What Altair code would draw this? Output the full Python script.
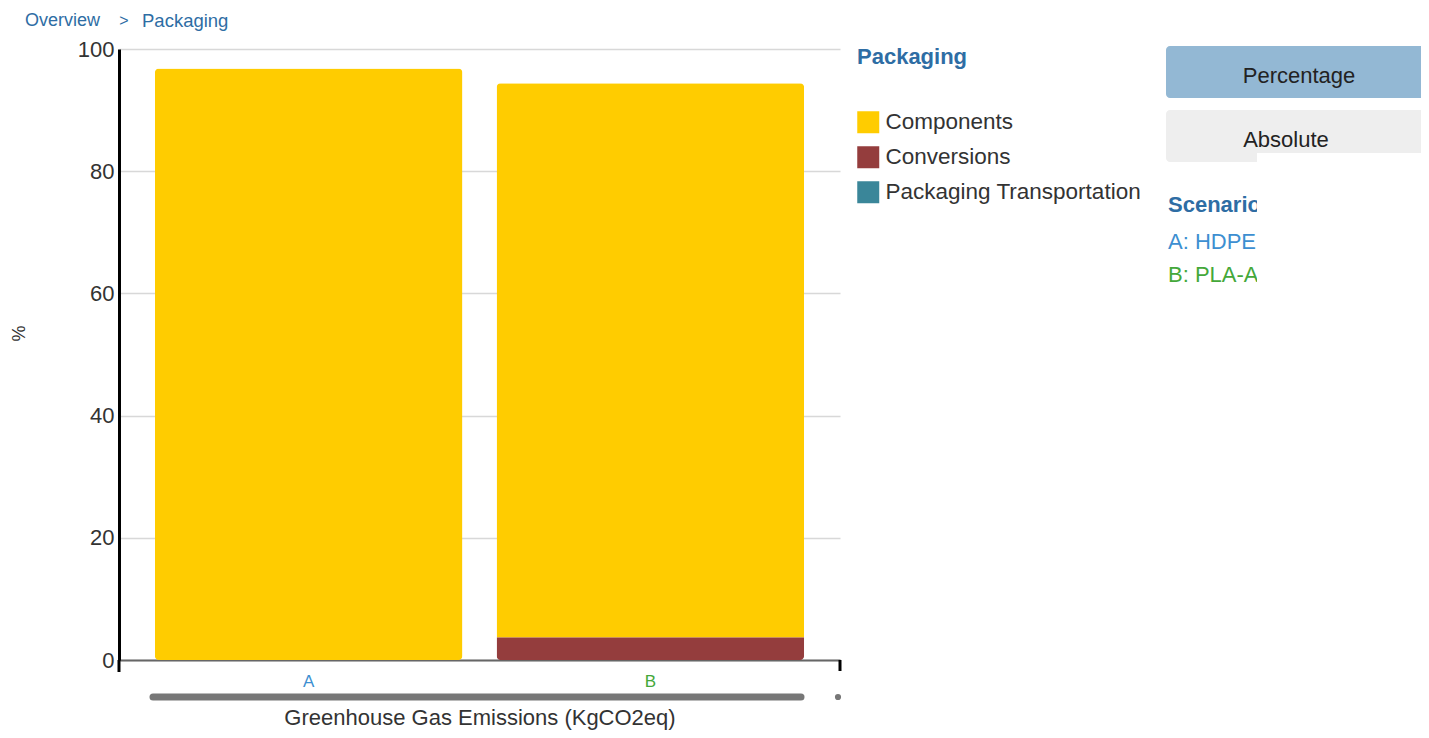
import altair as alt
import pandas as pd

# ---- data ----
scenarios = ["A", "B"]
series = ["Components", "Conversions", "Packaging Transportation"]
components = [96.8, 90.7]
conversions = [0.0, 3.7]
transportation = [0.0, 0.0]
series_colors = ["#FFCC00", "#943D3D", "#3A8699"]
y_ticks = [0, 20, 40, 60, 80, 100]

values_by_series = [components, conversions, transportation]
rows = []
for i, sc in enumerate(scenarios):
    for k, name in enumerate(series):
        rows.append({"scenario": sc, "series": name,
                     "value": values_by_series[k][i],
                     "stackorder": len(series) - 1 - k})
df = pd.DataFrame(rows)

W, H = 721, 611
FONT = "Liberation Sans"
BLUE = "#2e6da4"
LBLUE = "#3d8fd1"
GREEN = "#44a83a"

bars = alt.Chart(df).mark_bar(cornerRadius=4).encode(
    x=alt.X("scenario:N",
            scale=alt.Scale(paddingInner=0.1, paddingOuter=0.105),
            axis=alt.Axis(title="Greenhouse Gas Emissions (KgCO2eq)", labelAngle=0,
                          labelFontSize=17,
                          labelColor={"condition": {"test": "datum.value == 'A'", "value": LBLUE},
                                      "value": GREEN},
                          labelPadding=13, ticks=False, tickSize=0,
                          domainColor="#666", domainWidth=2,
                          titleFontSize=22, titleFontWeight="normal", titleColor="#333",
                          titleY=57, titleBaseline="middle", grid=False)),
    y=alt.Y("value:Q", stack="zero",
            scale=alt.Scale(domain=[0, 100], nice=False),
            axis=alt.Axis(title="%", values=y_ticks, labelFontSize=22, labelColor="#333",
                          labelPadding=5, ticks=False, tickSize=0,
                          domainColor="#000", domainWidth=3,
                          gridColor="#d8d8d8", gridWidth=1.5,
                          titleFontSize=18, titleFontWeight="normal", titleColor="#333",
                          titleX=-100, titleY=284, titleAngle=270,
                          titleBaseline="middle", titleAlign="center")),
    color=alt.Color("series:N",
                    scale=alt.Scale(domain=series, range=series_colors),
                    legend=alt.Legend(orient="none", legendX=738, legendY=-2,
                                      title="Packaging", titleColor=BLUE, titleFontSize=22,
                                      titleFontWeight="bold", titlePadding=42,
                                      labelFontSize=22.5, labelColor="#333", labelLimit=400,
                                      symbolType="square", symbolSize=484,
                                      symbolStrokeWidth=0, symbolOpacity=1,
                                      rowPadding=12, labelOffset=6)),
    order=alt.Order("stackorder:Q", sort="ascending"),
)

one = alt.Data(values=[{"k": 1}])

def rule(**kw):
    style = {k: kw.pop(k) for k in list(kw) if k in ("color", "strokeWidth", "strokeCap")}
    return alt.Chart(one).mark_rule(**style).encode(**{k: alt.value(v) for k, v in kw.items()})

def text(t, x, y, **style):
    return alt.Chart(one).mark_text(text=t, font=FONT, **style).encode(x=alt.value(x), y=alt.value(y))

def rect(x, x2, y, y2, **style):
    return alt.Chart(one).mark_rect(**style).encode(
        x=alt.value(x), x2=alt.value(x2), y=alt.value(y), y2=alt.value(y2))

decor = [
    rule(x=0, y=H, y2=H + 12, color="#000", strokeWidth=3),
    rule(x=W, y=H, y2=H + 11, color="#000", strokeWidth=3),
    rule(x=34, x2=682, y=648, color="#777", strokeWidth=7, strokeCap="round"),
    alt.Chart(one).mark_circle(color="#777", opacity=1, size=38).encode(
        x=alt.value(719), y=alt.value(648)),
    # breadcrumb
    text("Overview", -94, -28, fontSize=18, color=BLUE, align="left", baseline="middle"),
    text(">", 5, -28, fontSize=16, color=BLUE, align="center", baseline="middle"),
    text("Packaging", 23, -28, fontSize=18.5, color=BLUE, align="left", baseline="middle"),
    # buttons
    rect(1047, 1320, -3, 49, color="#93b8d4", cornerRadius=4),
    rect(1047, 1320, 61, 113, color="#eeeeee", cornerRadius=4),
    text("Percentage", 1180, 27, fontSize=22, color="#222", align="center", baseline="middle"),
    text("Absolute", 1167, 91, fontSize=22, color="#222", align="center", baseline="middle"),
    # scenarios
    text("Scenario", 1049, 156, fontSize=22, fontWeight="bold", color=BLUE,
         align="left", baseline="middle"),
    text("A: HDPE", 1049, 193, fontSize=22, color=LBLUE, align="left", baseline="middle"),
    text("B: PLA-Ag", 1049, 226, fontSize=22, color=GREEN, align="left", baseline="middle"),
    rect(1138, 1320, 104, 250, color="#ffffff"),
]

chart = alt.layer(bars, *decor).properties(
    width=W, height=H,
    padding={"left": 111, "top": 41, "right": 581, "bottom": 70},
    autosize=alt.AutoSizeParams(type="none"),
    background="#ffffff",
).configure(font=FONT).configure_view(stroke=None, strokeWidth=0)

chart.save("out.html", embed_options={"renderer": "svg", "actions": False})
